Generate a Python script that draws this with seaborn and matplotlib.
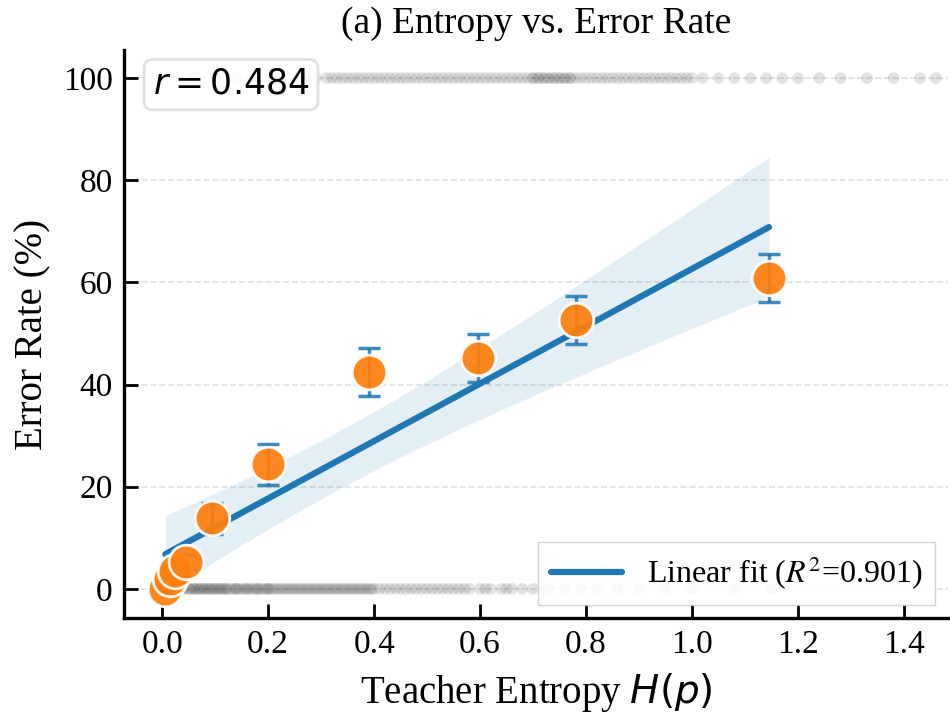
import numpy as np
import pandas as pd
import matplotlib
matplotlib.use("Agg")
import matplotlib.pyplot as plt
import seaborn as sns
from matplotlib.font_manager import FontProperties

# entropia por muestra (correctas -> 0%, erroneas -> 100%)
correct_h = [0.00, 0.00, 0.00, 0.00, 0.01, 0.01, 0.01, 0.01, 0.02, 0.02, 0.02, 0.03, 0.03, 0.03,
             0.04, 0.04, 0.05, 0.05, 0.06, 0.06, 0.07, 0.07, 0.08, 0.08, 0.09, 0.09, 0.10, 0.10,
             0.11, 0.11, 0.12, 0.12, 0.13, 0.14, 0.14, 0.15, 0.16, 0.16, 0.17, 0.18, 0.18, 0.19,
             0.20, 0.20, 0.21, 0.22, 0.23, 0.24, 0.25, 0.26, 0.27, 0.28, 0.29, 0.30, 0.31, 0.32,
             0.33, 0.34, 0.35, 0.36, 0.37, 0.38, 0.39, 0.40, 0.41, 0.42, 0.44, 0.46, 0.48, 0.50,
             0.52, 0.54, 0.56, 0.58, 0.60, 0.62, 0.64, 0.66, 0.68, 0.70, 0.73, 0.76, 0.79, 0.82,
             0.86, 0.90, 0.95, 1.00, 1.08, 1.15,
             0.055, 0.065, 0.075, 0.085, 0.095, 0.105, 0.115, 0.125, 0.135, 0.145, 0.155,
             0.165, 0.175, 0.185, 0.195, 0.205, 0.215, 0.225, 0.235, 0.245, 0.255, 0.265,
             0.275, 0.285, 0.295, 0.305, 0.315, 0.325, 0.335, 0.345, 0.355, 0.365, 0.375,
             0.385, 0.395, 0.43, 0.45, 0.47, 0.49, 0.51, 0.53, 0.55, 0.57, 0.61, 0.65]
wrong_h = [0.06, 0.10, 0.14, 0.17, 0.20, 0.22, 0.25, 0.27, 0.29, 0.31, 0.33, 0.34, 0.36, 0.37,
           0.39, 0.40, 0.42, 0.43, 0.45, 0.46, 0.48, 0.49, 0.51, 0.52, 0.54, 0.55, 0.56, 0.57,
           0.58, 0.59, 0.60, 0.61, 0.62, 0.63, 0.64, 0.65, 0.66, 0.67, 0.68, 0.69, 0.70, 0.70,
           0.71, 0.72, 0.72, 0.73, 0.74, 0.74, 0.75, 0.76, 0.76, 0.77, 0.78, 0.79, 0.80, 0.82,
           0.84, 0.85, 0.87, 0.89, 0.90, 0.92, 0.94, 0.96, 0.98, 1.00, 1.02, 1.05, 1.08, 1.11,
           1.14, 1.17, 1.20, 1.24, 1.28, 1.33, 1.38, 1.43, 1.46,
           0.32, 0.35, 0.38, 0.41, 0.44, 0.47, 0.50, 0.53, 0.71, 0.73, 0.75, 0.77, 0.81, 0.83,
           0.86, 0.88, 0.91, 0.93, 0.95, 0.97, 0.99]

# medias por bin
bin_h = [0.006, 0.015, 0.025, 0.045, 0.094, 0.200, 0.390, 0.596, 0.781, 1.145]
bin_err = [0.0, 2.0, 3.5, 5.2, 13.8, 24.4, 42.4, 45.2, 52.6, 60.8]
bin_se = [0.3, 0.8, 1.0, 1.5, 3.0, 4.0, 4.7, 4.7, 4.7, 4.7]

r_val = 0.484
r2_val = 0.901

sns.set_style("ticks")
plt.rcParams['font.family'] = ['Liberation Serif', 'DejaVu Serif']
plt.rcParams['mathtext.fontset'] = 'dejavusans'
for k in ["text.color", "axes.labelcolor", "xtick.color", "ytick.color", "axes.edgecolor"]:
    plt.rcParams[k] = "black"

raw = pd.DataFrame({
    "h": correct_h + wrong_h,
    "err": [0] * len(correct_h) + [100] * len(wrong_h),
})
bins = pd.DataFrame({"h": bin_h, "err": bin_err, "se": bin_se})

fig = plt.figure(figsize=(9.5, 7.14), dpi=100)
ax = fig.add_axes([0.1305, 0.1345, 0.8675, 0.7955])

ax.grid(axis="y", linestyle="--", color="#cccccc", alpha=0.6, linewidth=1.2)
ax.set_axisbelow(True)

sns.scatterplot(data=raw, x="h", y="err", color="#444444", alpha=0.15, s=70,
                edgecolor="none", ax=ax, zorder=1)

# ajuste lineal + banda de confianza 95% (t, df=n-2)
sns.regplot(data=bins, x="h", y="err", scatter=False, ci=None,
            color="#1f77b4", line_kws={"linewidth": 4.5, "zorder": 3},
            label=f"Linear fit ($R^2$={r2_val})", ax=ax)
x = bins["h"].to_numpy()
y = bins["err"].to_numpy()
slope, inter = np.polyfit(x, y, 1)
resid = y - (slope * x + inter)
s_err = np.sqrt((resid ** 2).sum() / (len(x) - 2))
xg = np.linspace(x.min(), x.max(), 100)
se_fit = s_err * np.sqrt(1 / len(x) + (xg - x.mean()) ** 2 / ((x - x.mean()) ** 2).sum())
t_crit = 2.306
yg = slope * xg + inter
ax.fill_between(xg, yg - t_crit * se_fit, yg + t_crit * se_fit, color="#1f77b4",
                alpha=0.12, linewidth=0, zorder=2)

ax.errorbar(bins["h"], bins["err"], yerr=bins["se"], fmt="none", ecolor="#1f77b4",
            elinewidth=2.5, capsize=8, capthick=2.5, alpha=0.85, zorder=4)
sns.scatterplot(data=bins, x="h", y="err", color="#ff7f0e", s=620, alpha=0.93,
                edgecolor="white", linewidth=2, ax=ax, zorder=5)

ax.set_xlim(-0.072, 1.483)
ax.set_ylim(-5.7, 105.5)
ax.set_xticks([0.0, 0.2, 0.4, 0.6, 0.8, 1.0, 1.2, 1.4])
ax.set_yticks([0, 20, 40, 60, 80, 100])

sns.despine(ax=ax)
for s in ["left", "bottom"]:
    ax.spines[s].set_linewidth(2.4)
ax.tick_params(direction="in", length=10, width=2, labelsize=24, pad=8)

ax.set_xlabel("Teacher Entropy $H(p)$", fontsize=28, labelpad=8)
ax.set_ylabel("Error Rate (%)", fontsize=28, labelpad=8)
ax.set_title("(a) Entropy vs. Error Rate", fontsize=27, pad=12)

ax.text(0.035, 0.968, f"$r = {r_val}$", transform=ax.transAxes, fontsize=25,
        va="top", ha="left", zorder=6,
        bbox=dict(boxstyle="round,pad=0.25", facecolor="white", edgecolor="#dddddd",
                  linewidth=2, alpha=0.9))

leg_font = FontProperties(family="Liberation Serif", size=23, math_fontfamily="stix")
ax.legend(loc="lower right", prop=leg_font, frameon=True, fancybox=False,
          edgecolor="#cccccc", framealpha=0.85, handlelength=2.2,
          borderaxespad=0.4)

fig.savefig("out.png", dpi=100)
